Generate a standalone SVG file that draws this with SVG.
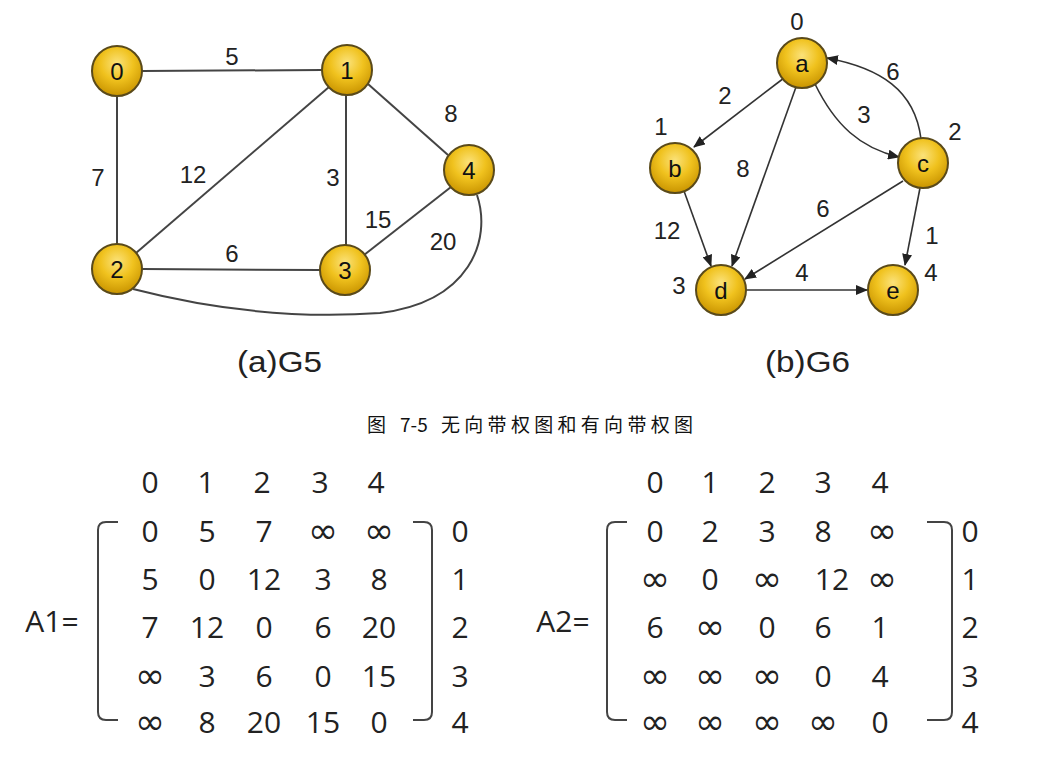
<svg xmlns="http://www.w3.org/2000/svg" width="1040" height="758" viewBox="0 0 1040 758">
<defs>
<radialGradient id="gold" cx="50%" cy="35%" r="65%">
<stop offset="0" stop-color="#fbe27a"/>
<stop offset="0.5" stop-color="#f0c21e"/>
<stop offset="1" stop-color="#c99400"/>
</radialGradient>
<marker id="arr" viewBox="0 0 12 10" refX="11" refY="5" markerWidth="12" markerHeight="10" markerUnits="userSpaceOnUse" orient="auto">
<path d="M0,0 L12,5 L0,10 Z" fill="#222"/>
</marker>
</defs>
<style>
.edge{stroke:#444;stroke-width:2;fill:none}
.arc{stroke:#333;stroke-width:1.6;fill:none;marker-end:url(#arr)}
.node{fill:url(#gold);stroke:#5a4a1a;stroke-width:2}
.nl{font-family:"Liberation Sans",Arial,sans-serif;font-size:24px;fill:#111;text-anchor:middle;dominant-baseline:central}
.wl{font-family:"Liberation Sans",Arial,sans-serif;font-size:24px;fill:#222;text-anchor:middle;dominant-baseline:central}
.cap{font-family:"Liberation Sans",sans-serif;font-size:30px;fill:#222}
.fig{font-family:"Noto Sans CJK SC",sans-serif;font-size:19px;fill:#111}
.m{font-family:"Open Sans","DejaVu Sans",sans-serif;font-size:30px;fill:#222;text-anchor:middle}
.inf{font-family:"DejaVu Sans",sans-serif;font-size:36px;fill:#222;text-anchor:middle}
.br{stroke:#444;stroke-width:2;fill:none}
</style>
<rect width="1040" height="758" fill="#fff"/>
<g id="connectors">
<line class="edge" x1="142" y1="71" x2="322" y2="70"/>
<line class="edge" x1="117" y1="96" x2="117" y2="244"/>
<line class="edge" x1="136" y1="253" x2="329" y2="87"/>
<line class="edge" x1="346" y1="95" x2="346" y2="245"/>
<line class="edge" x1="368" y1="84" x2="448" y2="155"/>
<line class="edge" x1="142" y1="269" x2="320" y2="270"/>
<line class="edge" x1="364" y1="255" x2="451" y2="187"/>
<path class="edge" d="M133,289 C230,314 310,318 380,313 C470,302 492,240 477,195"/>
<line class="arc" x1="784" y1="78" x2="694" y2="147"/>
<line class="arc" x1="796" y1="87" x2="732" y2="266"/>
<line class="arc" x1="684" y1="191" x2="711" y2="266"/>
<line class="arc" x1="903" y1="181" x2="745" y2="279"/>
<line class="arc" x1="920" y1="188" x2="905" y2="265"/>
<line class="arc" x1="746" y1="290" x2="867" y2="290"/>
<path class="arc" d="M815,84 C835,125 860,148 899,157"/>
<path class="arc" d="M921,139 C915,90 880,68 827,58"/>
<g class="br">
<path d="M118,522 H106 Q98,522 98,530 V712 Q98,720 106,720 H118"/>
<path d="M413,522 H424 Q432,522 432,530 V712 Q432,720 424,720 H413"/>
<path d="M627,522 H615 Q607,522 607,530 V712 Q607,720 615,720 H627"/>
<path d="M927,522 H944 Q952,522 952,530 V712 Q952,720 944,720 H927"/>
</g>
</g>
<g id="n0"><circle class="node" cx="117" cy="71" r="25"/><text class="nl" x="117" y="71">0</text></g>
<g id="n1"><circle class="node" cx="347" cy="70" r="25"/><text class="nl" x="347" y="70">1</text></g>
<g id="n2"><circle class="node" cx="117" cy="269" r="25"/><text class="nl" x="117" y="269">2</text></g>
<g id="n3"><circle class="node" cx="345" cy="270" r="25"/><text class="nl" x="345" y="270">3</text></g>
<g id="n4"><circle class="node" cx="469" cy="170" r="25"/><text class="nl" x="469" y="170">4</text></g>
<g id="na"><circle class="node" cx="802" cy="63" r="25"/><text class="nl" x="802" y="63">a</text></g>
<g id="nb"><circle class="node" cx="675" cy="168" r="25"/><text class="nl" x="675" y="168">b</text></g>
<g id="nc"><circle class="node" cx="923" cy="163" r="25"/><text class="nl" x="923" y="163">c</text></g>
<g id="nd"><circle class="node" cx="721" cy="290" r="25"/><text class="nl" x="721" y="290">d</text></g>
<g id="ne"><circle class="node" cx="893" cy="290" r="25"/><text class="nl" x="893" y="290">e</text></g>
<g id="weights">
<text class="wl" x="232" y="56">5</text>
<text class="wl" x="98" y="177">7</text>
<text class="wl" x="193" y="174">12</text>
<text class="wl" x="333" y="177">3</text>
<text class="wl" x="451" y="113">8</text>
<text class="wl" x="378" y="219">15</text>
<text class="wl" x="443" y="241">20</text>
<text class="wl" x="232" y="253">6</text>
<text class="wl" x="797" y="21">0</text>
<text class="wl" x="661" y="126">1</text>
<text class="wl" x="955" y="131">2</text>
<text class="wl" x="679" y="285">3</text>
<text class="wl" x="931" y="272">4</text>
<text class="wl" x="725" y="95">2</text>
<text class="wl" x="743" y="168">8</text>
<text class="wl" x="864" y="114">3</text>
<text class="wl" x="893" y="71">6</text>
<text class="wl" x="667" y="230">12</text>
<text class="wl" x="823" y="208">6</text>
<text class="wl" x="932" y="235">1</text>
<text class="wl" x="802" y="272">4</text>
</g>
<text class="cap" x="237" y="372" textLength="85" lengthAdjust="spacingAndGlyphs">(a)G5</text>
<text class="cap" x="765" y="372" textLength="85" lengthAdjust="spacingAndGlyphs">(b)G6</text>
<text class="fig" y="432"><tspan x="367">图</tspan><tspan x="400">7-5</tspan><tspan x="441" letter-spacing="4.3">无向带权图和有向带权图</tspan></text>
<g id="A1">
<text class="m" x="52" y="632" font-size="33">A1=</text>
<text class="m" x="150" y="493">0</text><text class="m" x="206" y="493">1</text><text class="m" x="262" y="493">2</text><text class="m" x="320" y="493">3</text><text class="m" x="376" y="493">4</text>
<text class="m" x="150" y="542">0</text><text class="m" x="207" y="542">5</text><text class="m" x="264" y="542">7</text><text class="inf" x="323" y="543">∞</text><text class="inf" x="379" y="543">∞</text><text class="m" x="460" y="542">0</text>
<text class="m" x="150" y="590">5</text><text class="m" x="207" y="590">0</text><text class="m" x="264" y="590">12</text><text class="m" x="323" y="590">3</text><text class="m" x="379" y="590">8</text><text class="m" x="460" y="590">1</text>
<text class="m" x="150" y="638">7</text><text class="m" x="207" y="638">12</text><text class="m" x="264" y="638">0</text><text class="m" x="323" y="638">6</text><text class="m" x="379" y="638">20</text><text class="m" x="460" y="638">2</text>
<text class="inf" x="150" y="688">∞</text><text class="m" x="207" y="687">3</text><text class="m" x="264" y="687">6</text><text class="m" x="323" y="687">0</text><text class="m" x="379" y="687">15</text><text class="m" x="460" y="687">3</text>
<text class="inf" x="150" y="734">∞</text><text class="m" x="207" y="733">8</text><text class="m" x="264" y="733">20</text><text class="m" x="323" y="733">15</text><text class="m" x="379" y="733">0</text><text class="m" x="460" y="733">4</text>
</g>
<g id="A2">
<text class="m" x="563" y="632" font-size="33">A2=</text>
<text class="m" x="655" y="493">0</text><text class="m" x="710" y="493">1</text><text class="m" x="767" y="493">2</text><text class="m" x="823" y="493">3</text><text class="m" x="880" y="493">4</text>
<text class="m" x="655" y="542">0</text><text class="m" x="710" y="542">2</text><text class="m" x="767" y="542">3</text><text class="m" x="823" y="542">8</text><text class="inf" x="882" y="543">∞</text><text class="m" x="970" y="542">0</text>
<text class="inf" x="655" y="591">∞</text><text class="m" x="710" y="590">0</text><text class="inf" x="767" y="591">∞</text><text class="m" x="832" y="590">12</text><text class="inf" x="882" y="591">∞</text><text class="m" x="970" y="590">1</text>
<text class="m" x="655" y="638">6</text><text class="inf" x="710" y="639">∞</text><text class="m" x="767" y="638">0</text><text class="m" x="823" y="638">6</text><text class="m" x="880" y="638">1</text><text class="m" x="970" y="638">2</text>
<text class="inf" x="655" y="688">∞</text><text class="inf" x="710" y="688">∞</text><text class="inf" x="767" y="688">∞</text><text class="m" x="823" y="687">0</text><text class="m" x="880" y="687">4</text><text class="m" x="970" y="687">3</text>
<text class="inf" x="655" y="734">∞</text><text class="inf" x="710" y="734">∞</text><text class="inf" x="767" y="734">∞</text><text class="inf" x="823" y="734">∞</text><text class="m" x="880" y="733">0</text><text class="m" x="970" y="733">4</text>
</g>
</svg>
